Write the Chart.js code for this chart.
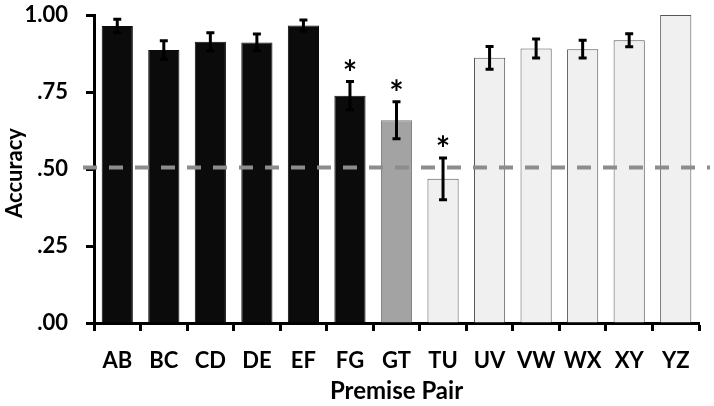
<!DOCTYPE html>
<html><head><meta charset="utf-8">
<script src="https://cdn.jsdelivr.net/npm/chart.js@4/dist/chart.umd.min.js"></script>
<style>html,body{margin:0;padding:0;background:#fff}#wrap{width:714px;height:406px}</style>
</head><body><div id="wrap"><canvas id="c" width="714" height="406"></canvas></div>
<script>
const categories = ["AB","BC","CD","DE","EF","FG","GT","TU","UV","VW","WX","XY","YZ"];
const accuracy = [0.964,0.886,0.913,0.911,0.966,0.738,0.658,0.468,0.861,0.891,0.889,0.918,1.0];
const errors = [0.022,0.030,0.029,0.027,0.018,0.046,0.060,0.068,0.037,0.031,0.029,0.021,0];
const significant = [false,false,false,false,false,true,true,true,false,false,false,false,false];
const chanceLevel = 0.505;
const yTicks = [0,0.25,0.5,0.75,1.0];

const fills = categories.map((c,i)=> i<6 ? "#0b0b0b" : (i===6 ? "#a3a3a3" : "#f0f0f0"));
const borders = categories.map((c,i)=> i<6 ? "#0b0b0b" : (i===6 ? "#777777" : "#555555"));

const extras = {
  id:'extras',
  afterDatasetsDraw(chart){
    const ctx = chart.ctx, x = chart.scales.x, y = chart.scales.y, ca = chart.chartArea;
    ctx.save();
    ctx.strokeStyle = "#8c8c8c"; ctx.lineWidth = 4; ctx.setLineDash([14,12]);
    const yc = y.getPixelForValue(chanceLevel);
    ctx.beginPath(); ctx.moveTo(ca.left-11, yc); ctx.lineTo(chart.width-4, yc); ctx.stroke();
    ctx.restore();
    ctx.save();
    ctx.strokeStyle = "#000"; ctx.lineWidth = 3;
    accuracy.forEach((v,i)=>{
      if(!errors[i]) return;
      const px = x.getPixelForValue(i);
      const t = y.getPixelForValue(v+errors[i]), b = y.getPixelForValue(v-errors[i]);
      ctx.beginPath();
      ctx.moveTo(px,t); ctx.lineTo(px,b);
      ctx.moveTo(px-4,t); ctx.lineTo(px+4,t);
      ctx.moveTo(px-4,b); ctx.lineTo(px+4,b);
      ctx.stroke();
      if(significant[i]){
        ctx.fillStyle = "#000";
        ctx.font = "bold 34px Lato";
        ctx.textAlign = "center"; ctx.textBaseline = "alphabetic";
        ctx.fillText("*", px, t+3);
      }
    });
    ctx.restore();
    ctx.save();
    ctx.fillStyle = "#000"; ctx.font = "bold 22px Lato";
    ctx.textAlign = "center"; ctx.textBaseline = "middle";
    ctx.translate(15, (ca.top+ca.bottom)/2 + 4);
    ctx.rotate(-Math.PI/2);
    ctx.fillText("Accuracy", 0, 0);
    ctx.restore();
  }
};

new Chart(document.getElementById('c'), {
  type:'bar',
  data:{ labels:categories, datasets:[{ data:accuracy, backgroundColor:fills, borderColor:borders, borderWidth:1, barPercentage:0.67, categoryPercentage:1 }]},
  options:{
    responsive:false, animation:false,
    layout:{ padding:{ top:15, right:15, left:0, bottom:0 } },
    plugins:{ legend:{display:false}, tooltip:{enabled:false} },
    scales:{
      x:{
        afterFit(s){ s.height = 83; },
        grid:{ display:true, drawOnChartArea:false, offset:true, tickLength:8, tickWidth:3, tickColor:"#000" },
        border:{ display:true, color:"#000", width:3 },
        ticks:{ color:"#000", font:{ family:"Lato", weight:"bold", size:22 }, padding:17, maxRotation:0, autoSkip:false },
        title:{ display:true, text:"Premise Pair", color:"#000", font:{ family:"Lato", weight:"bold", size:24 }, padding:{top:2,bottom:0} }
      },
      y:{
        min:0, max:1,
        afterFit(s){ s.width = 94; s.paddingTop = 0; s.paddingBottom = 0; },
        afterBuildTicks(s){ s.ticks = yTicks.map(v=>({value:v})); },
        grid:{ display:true, drawOnChartArea:false, tickLength:8, tickWidth:3, tickColor:"#000" },
        border:{ display:true, color:"#000", width:3 },
        ticks:{ color:"#000", font:{ family:"Lato", weight:"bold", size:22 }, padding:18, callback:(v)=>Number(v).toFixed(2).replace(/^0/,"") }
      }
    }
  },
  plugins:[extras]
});
</script></body></html>
